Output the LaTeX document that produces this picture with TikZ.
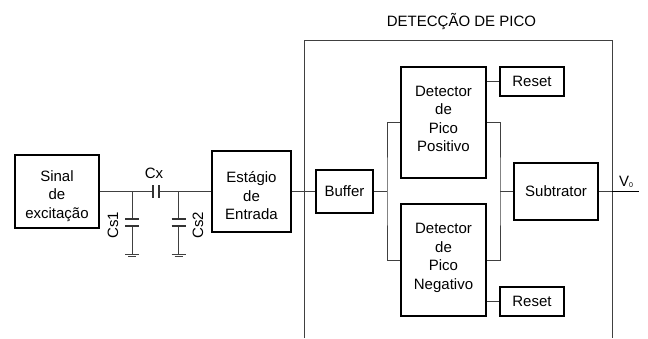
\documentclass[tikz,border=0pt]{standalone}
\usepackage{fontspec}
\setmainfont{Liberation Sans}
\usepackage{tikz}
\usetikzlibrary{positioning}

\begin{document}
\begin{tikzpicture}[
  x=1pt,
  y=-1pt,
  block/.style={
    draw,
    line width=1.6pt,
    align=center,
    inner sep=0pt,
    font=\fontsize{15}{18.5}\selectfont
  },
  wire/.style={line width=0.8pt, black!75},
  plate/.style={line width=1.2pt, black!80},
  txt/.style={font=\fontsize{15}{17}\selectfont, inner sep=0pt}
]
\useasboundingbox (0,0) rectangle (648,338);

% --- Outer block (open at the bottom) ---
\coordinate (boxbl) at (304,338);
\coordinate (boxtl) at (304,40.5);
\coordinate (boxtr) at (612,40.5);
\coordinate (boxbr) at (612,338);
\draw[wire] (boxbl) -- (boxtl) -- (boxtr) -- (boxbr);
\node[txt] (title) at (461.5,22) {DETECÇÃO DE PICO};

% --- Input chain ---
\node[block,minimum width=84pt,minimum height=73pt] (sinal) at (57,191.5)
{\rule{0pt}{20pt}Sinal\\de\\excitação};

\node[block,minimum width=79pt,minimum height=81pt] (entrada) at (251.5,191.5)
{\rule{0pt}{20pt}Estágio\\de\\Entrada};

\node[block,minimum width=57pt,minimum height=43pt] (buffer) at (344.5,191.5)
{Buffer};

% --- Peak detectors ---
\node[block,minimum width=85pt,minimum height=111pt] (detpos) at (443.5,122.5)
{Detector\\de\\Pico\\Positivo\\[-11.5pt]};

\node[block,minimum width=85pt,minimum height=112pt] (detneg) at (443.5,260)
{Detector\\de\\Pico\\Negativo\\[-11.5pt]};

\node[block,minimum width=64pt,minimum height=29pt] (resetpos) at (532,81.5) {Reset};
\node[block,minimum width=64pt,minimum height=29pt] (resetneg) at (532,301.5) {Reset};

\node[block,minimum width=84pt,minimum height=57pt] (subtrator) at (556,191.5)
{Subtrator};

% --- Capacitor Cx ---
\coordinate (cxa) at (153,191.5);
\coordinate (cxb) at (159,191.5);
\coordinate (nodea) at (132,191.5);
\coordinate (nodeb) at (178.5,191.5);
\draw[wire] (sinal) -- (cxa);
\draw[wire] (cxb) -- (entrada);
\draw[plate] (153,185) -- (153,198);
\draw[plate] (159,185) -- (159,198);
\node[txt] (cx) at (154,173) {Cx};

% --- Capacitors to ground ---
\foreach \name/\xpos in {a/132,b/178.5}{
  \coordinate (top\name) at (\xpos,219);
  \coordinate (bot\name) at (\xpos,226);
  \coordinate (gnd\name) at (\xpos,254);
  \draw[wire] (node\name) -- (top\name);
  \draw[wire] (bot\name) -- (gnd\name);
  \draw[plate] (\xpos-7,219) -- (\xpos+7,219);
  \draw[plate] (\xpos-7,226) -- (\xpos+7,226);
  \draw[wire,line width=0.6pt] (\xpos-7,254) -- (\xpos+7,254);
  \draw[wire,line width=0.6pt] (\xpos-4,256.5) -- (\xpos+4,256.5);
}
\node[txt,rotate=90] (cs1) at (113,225) {Cs1};
\node[txt,rotate=90] (cs2) at (198,225) {Cs2};

% --- Connections ---
\coordinate (busl) at (387,191.5);
\coordinate (busr) at (500,191.5);
\draw[wire] (entrada) -- (buffer);
\draw[wire] (buffer) -- (busl);
\draw[wire] (detpos.west) -| (busl) |- (detneg.west);
\draw[wire] (detpos.east) -| (busr) |- (detneg.east);
\draw[wire] (busr) -- (subtrator);
\draw[wire] (detpos.east |- resetpos.west) -- (resetpos.west);
\draw[wire] (detneg.east |- resetneg.west) -- (resetneg.west);

% Output
\coordinate (vmid) at (612,191.5);
\coordinate (vend) at (639,191.5);
\draw[wire] (subtrator) -- (vmid);
\draw[line width=1.6pt] (vmid) -- (vend);
\node[txt] (vo) at (626,182) {V{\fontsize{7}{8}\selectfont\raisebox{-1pt}{0}}};

\end{tikzpicture}
\end{document}
